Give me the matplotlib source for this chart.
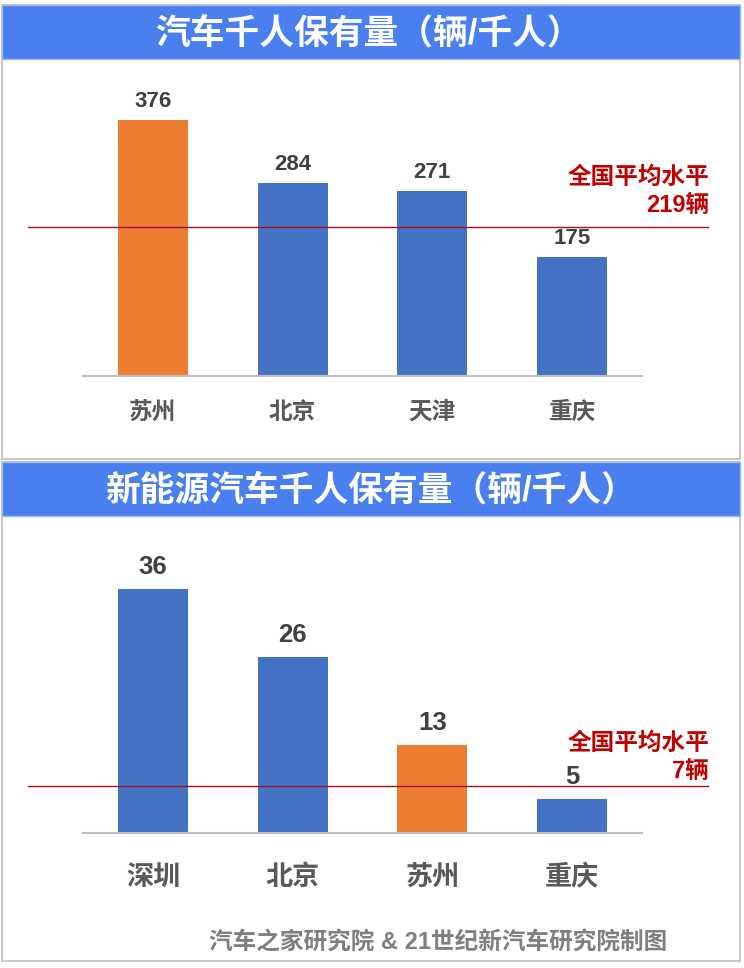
import matplotlib
matplotlib.use("Agg")
import matplotlib.pyplot as plt
from matplotlib.patches import Rectangle

plt.rcParams['font.family'] = ['Liberation Sans', 'Noto Sans CJK SC', 'DejaVu Sans']

# ---- data ----
cities_all = ["苏州", "北京", "天津", "重庆"]
cars_all = [376, 284, 271, 175]
avg_all = 219
colors_all = ["#ed7d31", "#4472c4", "#4472c4", "#4472c4"]

cities_nev = ["深圳", "北京", "苏州", "重庆"]
cars_nev = [36, 26, 13, 5]
avg_nev = 7
colors_nev = ["#4472c4", "#4472c4", "#ed7d31", "#4472c4"]

title_all = "汽车千人保有量（辆/千人）"
title_nev = "新能源汽车千人保有量（辆/千人）"
footer = "汽车之家研究院 & 21世纪新汽车研究院制图"

W, H = 744, 968
BANNER = "#4a7ff0"
BORDER = "#bfbfbf"
VAL = "#404040"
CAT = "#595959"
RED = "#c00000"

fig = plt.figure(figsize=(W / 100, H / 100), dpi=100)
fig.patch.set_facecolor("white")

# background layer in pixel coords
bg = fig.add_axes([0, 0, 1, 1])
bg.set_xlim(0, W); bg.set_ylim(H, 0); bg.axis("off")
# panel frames
bg.add_patch(Rectangle((2, 5), 738, 454, facecolor="white", edgecolor=BORDER, lw=1.2))
bg.add_patch(Rectangle((2, 462), 738, 499, facecolor="white", edgecolor=BORDER, lw=1.2))
# banners
bg.add_patch(Rectangle((2, 5), 738, 54, facecolor=BANNER, edgecolor="#9db8f2", lw=1))
bg.add_patch(Rectangle((2, 462), 738, 54, facecolor=BANNER, edgecolor="#9db8f2", lw=1))
bg.text(368, 34, title_all, ha="center", va="center", fontsize=25, fontweight="bold", color="white")
bg.text(370, 491, title_nev, ha="center", va="center", fontsize=25, fontweight="bold", color="white")
bg.text(438, 942, footer, ha="center", va="center", fontsize=17, fontweight="bold", color="#7f7f7f")


def px_axes(l, t, r, b):
    return fig.add_axes([l / W, 1 - b / H, (r - l) / W, (b - t) / H])


def panel(ax, cats, vals, cols, avg, ytop, vfs, cfs, vgap, cpad, agap):
    x = list(range(len(cats)))
    bars = ax.bar(x, vals, width=0.5, color=cols, zorder=2)
    ax.set_xlim(-0.5, 3.5)
    ax.set_ylim(0, ytop)
    ax.set_xticks(x, cats)
    ax.tick_params(axis="x", length=0, pad=cpad, labelsize=cfs, labelcolor=CAT)
    for lab in ax.get_xticklabels():
        lab.set_fontweight("bold")
    ax.set_yticks([])
    for s in ["left", "right", "top"]:
        ax.spines[s].set_visible(False)
    ax.spines["bottom"].set_color(BORDER)
    ax.spines["bottom"].set_linewidth(1.5)
    for b, v in zip(bars, vals):
        ax.annotate(str(v), (b.get_x() + b.get_width() / 2, v), xytext=(0, vgap),
                    textcoords="offset points", ha="center", va="baseline",
                    fontsize=vfs, fontweight="bold", color=VAL)
    ax.axhline(avg, xmin=-0.098, xmax=1.118, color="#a50f15", lw=1.0, clip_on=False, zorder=3)
    # two separate lines of the average note, right-aligned
    for txt, dy in [("%d辆" % avg, agap), ("全国平均水平", agap + 20)]:
        ax.annotate(txt, (1.12, avg), xycoords=("axes fraction", "data"),
                    xytext=(0, dy), textcoords="offset points", ha="right", va="bottom",
                    fontsize=17, fontweight="bold", color=RED, annotation_clip=False)


ax1 = px_axes(83, 80, 642, 376)
panel(ax1, cities_all, cars_all, colors_all, avg_all, 434.7, 16, 17, 9.4, 18, 7)

ax2 = px_axes(83, 540, 642, 833)
panel(ax2, cities_nev, cars_nev, colors_nev, avg_nev, 43.2, 18.5, 19.5, 10.8, 23, 2)

fig.savefig("out.png", dpi=100, facecolor="white")
